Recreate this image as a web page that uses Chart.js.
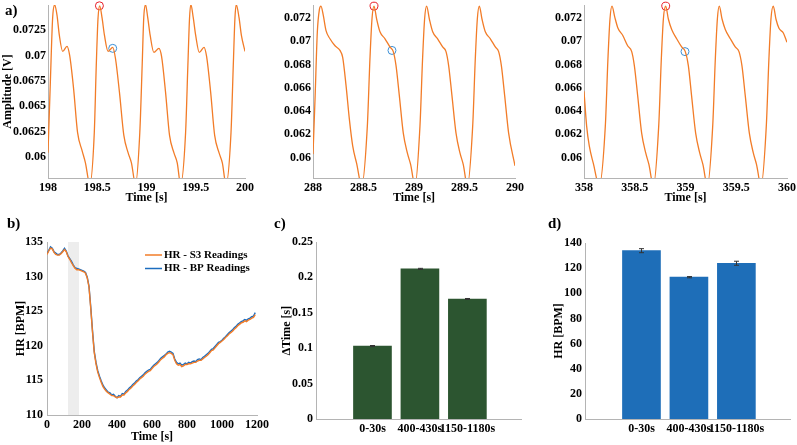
<!DOCTYPE html>
<html>
<head>
<meta charset="utf-8">
<script src="https://cdn.jsdelivr.net/npm/chart.js@4.4.1/dist/chart.umd.min.js"></script>
<style>
  html, body { margin: 0; padding: 0; background: #fff; }
  #wrap { position: relative; width: 797px; height: 445px; overflow: hidden; }
  #wrap canvas { position: absolute; left: 0; top: 0; }
  .tag { position: absolute; font: bold 15px "Liberation Serif", serif; line-height: 1; color: #000; }
</style>
</head>
<body>
<div id="wrap">
  <canvas id="a1" width="797" height="445"></canvas>
  <canvas id="a2" width="797" height="445"></canvas>
  <canvas id="a3" width="797" height="445"></canvas>
  <canvas id="b" width="797" height="445"></canvas>
  <canvas id="c" width="797" height="445"></canvas>
  <canvas id="d" width="797" height="445"></canvas>
  <div class="tag" style="left:5px;top:3px">a)</div>
  <div class="tag" style="left:7px;top:216px">b)</div>
  <div class="tag" style="left:274px;top:216px">c)</div>
  <div class="tag" style="left:548px;top:216px">d)</div>
</div>
<script>
// ---- data ----

// a) S3 waveform, 198-200 s
const a1Time = [
  198.0, 198.024, 198.047, 198.068, 198.091, 198.115, 198.149, 198.193, 198.22, 198.26, 198.30, 198.346, 198.38, 198.424,
  198.47, 198.49, 198.508, 198.525, 198.549, 198.573, 198.61, 198.657, 198.685, 198.725, 198.77, 198.813, 198.847, 198.888,
  198.932, 198.956, 198.972, 198.99, 199.013, 199.037, 199.075, 199.126, 199.153, 199.193, 199.234, 199.278, 199.312, 199.346,
  199.397, 199.42, 199.437, 199.451, 199.475, 199.499, 199.536, 199.584, 199.61, 199.651, 199.692, 199.736, 199.77, 199.807,
  199.858, 199.881, 199.898, 199.912, 199.94, 199.963, 200.0
];
const a1Amp = [
  0.0604, 0.0674, 0.0737, 0.0750, 0.0740, 0.0720, 0.0704, 0.0709, 0.0700, 0.0667, 0.0624, 0.0606, 0.0594, 0.0573,
  0.0624, 0.0690, 0.0737, 0.0749, 0.0737, 0.0720, 0.0704, 0.0708, 0.0697, 0.0664, 0.0621, 0.0604, 0.0594, 0.0573,
  0.0624, 0.0690, 0.0737, 0.0750, 0.0737, 0.0720, 0.0703, 0.0707, 0.0699, 0.0664, 0.0621, 0.0604, 0.0594, 0.0573,
  0.0624, 0.0690, 0.0737, 0.0750, 0.0737, 0.0720, 0.0703, 0.0708, 0.0699, 0.0664, 0.0621, 0.0604, 0.0594, 0.0573,
  0.0624, 0.0690, 0.0737, 0.0750, 0.0737, 0.0720, 0.0704
];
const a1Peak = [198.522, 0.0749];
const a1Notch = [198.657, 0.0707];

// 288-290 s
const a2Time = [
  288.0, 288.02, 288.043, 288.063, 288.079, 288.102, 288.129, 288.168, 288.218, 288.267, 288.294, 288.327, 288.36, 288.393, 288.432, 288.482,
  288.538, 288.564, 288.584, 288.604, 288.63, 288.663, 288.713, 288.762, 288.795, 288.822, 288.855, 288.894, 288.934, 288.967, 289.01,
  289.059, 289.085, 289.105, 289.125, 289.152, 289.185, 289.234, 289.284, 289.317, 289.343, 289.376, 289.416, 289.455, 289.488, 289.528,
  289.581, 289.607, 289.627, 289.647, 289.673, 289.706, 289.756, 289.805, 289.838, 289.865, 289.898, 289.937, 290.0
];
const a2Amp = [
  0.0603, 0.0650, 0.0708, 0.0727, 0.0730, 0.0722, 0.0709, 0.0702, 0.0696, 0.0692, 0.0686, 0.0662, 0.0633, 0.0610, 0.0595, 0.0576,
  0.0627, 0.0685, 0.0719, 0.0730, 0.0719, 0.0708, 0.0702, 0.0695, 0.0691, 0.0679, 0.0653, 0.0621, 0.0604, 0.0594, 0.0576,
  0.0627, 0.0685, 0.0719, 0.0730, 0.0719, 0.0708, 0.0702, 0.0695, 0.0691, 0.0679, 0.0653, 0.0621, 0.0604, 0.0594, 0.0576,
  0.0627, 0.0685, 0.0719, 0.0730, 0.0719, 0.0708, 0.0702, 0.0695, 0.0691, 0.0679, 0.0653, 0.0621, 0.0593
];
const a2Peak = [288.604, 0.0730];
const a2Notch = [288.782, 0.0692];

// 358-360 s
const a3Time = [
  358.0, 358.026, 358.052, 358.092, 358.15,
  358.21, 358.236, 358.256, 358.276, 358.302, 358.335, 358.381, 358.43, 358.47, 358.496, 358.529, 358.568, 358.608, 358.64, 358.683,
  358.736, 358.762, 358.782, 358.805, 358.831, 358.864, 358.913, 358.962, 358.998, 359.028, 359.06, 359.1, 359.14, 359.172, 359.215,
  359.268, 359.294, 359.314, 359.333, 359.36, 359.392, 359.442, 359.49, 359.527, 359.556, 359.589, 359.629, 359.668, 359.7, 359.744,
  359.796, 359.822, 359.842, 359.865, 359.891, 359.921, 359.964, 360.0
];
const a3Amp = [
  0.0657, 0.0627, 0.0610, 0.0595, 0.0576,
  0.0627, 0.0685, 0.0719, 0.0730, 0.0721, 0.0711, 0.0705, 0.0696, 0.0691, 0.0679, 0.0653, 0.0621, 0.0604, 0.0594, 0.0576,
  0.0627, 0.0685, 0.0719, 0.0730, 0.0719, 0.0710, 0.0702, 0.0695, 0.0691, 0.0679, 0.0653, 0.0621, 0.0604, 0.0594, 0.0576,
  0.0627, 0.0685, 0.0719, 0.0730, 0.0719, 0.0710, 0.0702, 0.0695, 0.0691, 0.0679, 0.0653, 0.0621, 0.0604, 0.0594, 0.0576,
  0.0627, 0.0685, 0.0719, 0.0730, 0.0719, 0.0711, 0.0707, 0.0699
];
const a3Peak = [358.805, 0.0730];
const a3Notch = [358.995, 0.0691];

// b) heart rate over the whole session
const hrTime = [
  0, 10, 20, 30, 40, 50, 60, 70, 80, 90, 100, 110, 120, 130, 140, 150, 160, 170, 180, 190,
  200, 210, 220, 230, 240, 250, 260, 270, 280, 290, 300, 310, 320, 330, 340, 350, 360, 370, 380, 390,
  400, 410, 420, 430, 440, 450, 460, 470, 480, 490, 500, 510, 520, 530, 540, 550, 560, 570, 580, 590,
  600, 610, 620, 630, 640, 650, 660, 670, 680, 690, 700, 710, 720, 730, 740, 750, 760, 770, 780, 790,
  800, 810, 820, 830, 840, 850, 860, 870, 880, 890, 900, 910, 920, 930, 940, 950, 960, 970, 980, 990,
  1000, 1010, 1020, 1030, 1040, 1050, 1060, 1070, 1080, 1090, 1100, 1110, 1120, 1130, 1140, 1150, 1160, 1170, 1180, 1190
];
const hrS3 = [
  133.2, 133.7, 134.1, 134.0, 133.5, 133.2, 133.1, 133.1, 133.3, 133.6, 133.9, 133.6, 132.9, 132.5, 132.0, 131.6, 131.2, 131.0, 131.0, 130.9,
  130.8, 130.7, 130.5, 129.8, 128.5, 125.4, 122.0, 119.0, 117.4, 116.2, 115.4, 114.7, 114.1, 113.7, 113.4, 113.2, 113.0, 112.8, 112.8, 112.6,
  112.5, 112.6, 112.6, 112.9, 112.9, 113.2, 113.4, 113.7, 113.9, 114.2, 114.4, 114.7, 114.9, 115.2, 115.4, 115.6, 115.9, 116.1, 116.3, 116.4,
  116.7, 117.0, 117.2, 117.4, 117.7, 118.0, 118.2, 118.4, 118.7, 118.9, 119.0, 118.9, 118.7, 117.9, 117.4, 117.2, 117.3, 117.0, 117.1, 117.3,
  117.3, 117.4, 117.4, 117.5, 117.6, 117.6, 117.8, 117.9, 117.9, 118.1, 118.3, 118.5, 118.7, 119.0, 119.3, 119.4, 119.7, 120.0, 120.3, 120.5,
  120.7, 120.9, 121.2, 121.4, 121.7, 121.9, 122.1, 122.4, 122.6, 122.9, 123.1, 123.3, 123.4, 123.6, 123.5, 123.7, 123.8, 124.0, 124.1, 124.5
];
const hrBP = [
  133.3, 133.8, 134.3, 134.1, 133.6, 133.4, 133.2, 133.2, 133.4, 133.7, 134.1, 133.7, 133.0, 132.6, 132.2, 131.7, 131.3, 131.2, 131.1, 131.0,
  130.9, 130.8, 130.6, 129.9, 128.6, 125.6, 122.2, 119.2, 117.6, 116.4, 115.6, 114.9, 114.3, 113.9, 113.6, 113.3, 113.2, 112.9, 113.0, 112.7,
  112.5, 112.8, 112.7, 113.1, 113.0, 113.4, 113.6, 113.9, 114.1, 114.4, 114.6, 114.9, 115.1, 115.4, 115.6, 115.8, 116.1, 116.3, 116.5, 116.6,
  116.9, 117.2, 117.4, 117.6, 117.9, 118.2, 118.4, 118.6, 118.8, 119.1, 119.2, 119.1, 118.9, 118.1, 117.6, 117.4, 117.5, 117.2, 117.3, 117.5,
  117.4, 117.6, 117.5, 117.7, 117.8, 117.7, 118.0, 118.1, 118.0, 118.3, 118.5, 118.7, 118.9, 119.2, 119.5, 119.6, 119.9, 120.2, 120.5, 120.6,
  120.8, 121.1, 121.3, 121.6, 121.9, 122.1, 122.3, 122.6, 122.8, 123.1, 123.3, 123.5, 123.6, 123.8, 123.7, 123.9, 124.0, 124.2, 124.3, 124.8
];
const hrShade = [120, 183];

// c) and d) per time window
const windows = ['0-30s', '400-430s', '1150-1180s'];
const dtMean = [0.103, 0.212, 0.1695];
const dtErr = [0.0008, 0.0008, 0.0007];
const hrMean = [133.9, 112.8, 123.9];
const hrErr = [1.6, 0.5, 1.6];

// ---- drawing ----
const W = 797, H = 445;
const axisGray = '#b4b4b4';
const orange = '#f27c28';
const blue = '#1c6dbf';
const font = { family: 'Liberation Serif', size: 12, weight: 'bold' };

Chart.defaults.font.family = 'Liberation Serif';
Chart.defaults.font.size = 12;
Chart.defaults.font.weight = 'bold';
Chart.defaults.color = '#000';
Chart.defaults.animation = false;
Chart.defaults.responsive = false;
Chart.defaults.plugins.legend.display = false;
Chart.defaults.plugins.tooltip.enabled = false;

// padding that puts the plot area exactly on box = [left, top, right, bottom]
function pad(box, yw, xh) {
  return { left: box[0] - yw, top: box[1], right: W - box[2], bottom: H - box[3] - xh };
}
function fixWidth(w) {
  return s => { s.width = w; s.paddingTop = s.paddingBottom = s.paddingLeft = s.paddingRight = 0; };
}
function fixHeight(h) {
  return s => { s.height = h; s.paddingTop = s.paddingBottom = s.paddingLeft = s.paddingRight = 0; };
}
function pts(xs, ys) {
  return xs.map((x, i) => ({ x: x, y: ys[i] }));
}

function wavePanel(id, time, amp, peak, notch, o) {
  new Chart(document.getElementById(id), {
    type: 'line',
    data: {
      datasets: [
        { data: pts(time, amp), borderColor: orange, borderWidth: 1.3, pointRadius: 0,
          cubicInterpolationMode: 'monotone', clip: 0 },
        { data: [{ x: peak[0], y: peak[1] }], showLine: false, pointRadius: 4, pointBorderWidth: 1,
          pointBorderColor: '#e8202a', pointBackgroundColor: 'rgba(0,0,0,0)', clip: false },
        { data: [{ x: notch[0], y: notch[1] }], showLine: false, pointRadius: 4, pointBorderWidth: 1,
          pointBorderColor: '#3a8fd6', pointBackgroundColor: 'rgba(0,0,0,0)', clip: false },
      ],
    },
    options: {
      layout: { padding: pad(o.box, o.yw, 27) },
      scales: {
        x: {
          type: 'linear', min: time[0], max: time[0] + 2,
          grid: { display: false, drawTicks: false }, border: { color: axisGray },
          ticks: { font: font, color: '#000', stepSize: 0.5, padding: 3, autoSkip: false, maxRotation: 0,
                   includeBounds: false, callback: v => String(v) },
          title: { display: true, text: 'Time [s]', font: font, color: '#000', padding: 0 },
          afterFit: fixHeight(27),
        },
        y: {
          type: 'linear', min: o.yMin, max: o.yMax,
          grid: { display: false, drawTicks: false }, border: { color: axisGray },
          ticks: { font: font, color: '#000', stepSize: o.yStep, padding: 2, includeBounds: false,
                   callback: v => String(+v.toFixed(4)) },
          title: { display: !!o.yTitle, text: o.yTitle || '', font: font, color: '#000', padding: { top: 1, bottom: 0 } },
          afterFit: fixWidth(o.yw),
        },
      },
    },
  });
}

wavePanel('a1', a1Time, a1Amp, a1Peak, a1Notch,
  { box: [48, 5, 245, 178], yw: 48, yMin: 0.0579, yMax: 0.07498, yStep: 0.0025, yTitle: 'Amplitude [V]' });
wavePanel('a2', a2Time, a2Amp, a2Peak, a2Notch,
  { box: [313, 5, 515, 178], yw: 40, yMin: 0.05825, yMax: 0.0731, yStep: 0.002 });
wavePanel('a3', a3Time, a3Amp, a3Peak, a3Notch,
  { box: [584, 5, 787, 178], yw: 40, yMin: 0.05825, yMax: 0.0731, yStep: 0.002 });

// shaded window behind the HR traces
function shade(from, to) {
  return {
    id: 'shade',
    beforeDatasetsDraw(chart) {
      const ctx = chart.ctx, a = chart.chartArea, x = chart.scales.x;
      const x0 = x.getPixelForValue(from), x1 = x.getPixelForValue(to);
      ctx.save();
      ctx.fillStyle = '#ededed';
      ctx.fillRect(x0, a.top, x1 - x0, a.bottom - a.top);
      ctx.restore();
    },
  };
}

// legend inside the plot, top right
const hrLegend = {
  id: 'hrLegend',
  afterDraw(chart) {
    const ctx = chart.ctx, a = chart.chartArea;
    ctx.save();
    ctx.font = 'bold 11px "Liberation Serif"';
    ctx.textBaseline = 'middle';
    chart.data.datasets.forEach((ds, i) => {
      const y = a.top + 13 + i * 13.5;
      ctx.strokeStyle = ds.borderColor;
      ctx.lineWidth = 1.5;
      ctx.beginPath();
      ctx.moveTo(a.left + 98, y);
      ctx.lineTo(a.left + 115, y);
      ctx.stroke();
      ctx.fillStyle = '#000';
      ctx.fillText(ds.label, a.left + 117, y);
    });
    ctx.restore();
  },
};

new Chart(document.getElementById('b'), {
  type: 'line',
  data: {
    datasets: [
      { label: 'HR - S3 Readings', data: pts(hrTime, hrS3), borderColor: orange, borderWidth: 1.4,
        pointRadius: 0, tension: 0, clip: 0 },
      { label: 'HR - BP Readings', data: pts(hrTime, hrBP), borderColor: blue, borderWidth: 1.4,
        pointRadius: 0, tension: 0, clip: 0 },
    ],
  },
  options: {
    layout: { padding: pad([47, 242, 257, 415], 37, 29) },
    scales: {
      x: {
        type: 'linear', min: 0, max: 1200,
        grid: { display: false, drawTicks: false }, border: { color: axisGray },
        ticks: { font: font, color: '#000', stepSize: 200, padding: 3, autoSkip: false, maxRotation: 0,
                 callback: v => String(v) },
        title: { display: true, text: 'Time [s]', font: font, color: '#000', padding: 0 },
        afterFit: fixHeight(29),
      },
      y: {
        type: 'linear', min: 110, max: 135,
        grid: { display: false, drawTicks: false }, border: { color: axisGray },
        ticks: { font: font, color: '#000', stepSize: 5, padding: 4, callback: v => String(v) },
        title: { display: true, text: 'HR [BPM]', font: font, color: '#000', padding: { top: 4, bottom: 0 } },
        afterFit: fixWidth(37),
      },
    },
  },
  plugins: [shade(hrShade[0], hrShade[1]), hrLegend],
});

// small error bars on top of the bars
function errorBars(mean, err) {
  return {
    id: 'errorBars',
    afterDatasetsDraw(chart) {
      const ctx = chart.ctx, xs = chart.scales.x, ys = chart.scales.y;
      ctx.save();
      ctx.strokeStyle = '#333';
      ctx.lineWidth = 1;
      mean.forEach((m, i) => {
        const x = Math.round(xs.getPixelForValue(i + 1)) + 0.5;
        const lo = ys.getPixelForValue(m - err[i]);
        const hi = ys.getPixelForValue(m + err[i]);
        ctx.beginPath();
        ctx.moveTo(x, lo); ctx.lineTo(x, hi);
        ctx.moveTo(x - 2.5, lo); ctx.lineTo(x + 2.5, lo);
        ctx.moveTo(x - 2.5, hi); ctx.lineTo(x + 2.5, hi);
        ctx.stroke();
      });
      ctx.restore();
    },
  };
}

function barPanel(id, mean, err, color, o) {
  new Chart(document.getElementById(id), {
    type: 'bar',
    data: {
      datasets: [{ data: mean.map((v, i) => ({ x: i + 1, y: v })), backgroundColor: color, barThickness: 38 }],
    },
    options: {
      layout: { padding: pad(o.box, o.yw, 20) },
      scales: {
        x: {
          type: 'linear', min: -0.19, max: 4.13, offset: false,
          grid: { display: false, drawTicks: false, offset: false }, border: { color: axisGray },
          afterBuildTicks: s => { s.ticks = windows.map((w, i) => ({ value: i + 1 })); },
          ticks: { font: font, color: '#000', padding: 3, autoSkip: false, maxRotation: 0,
                   callback: v => windows[v - 1] },
          afterFit: fixHeight(20),
        },
        y: {
          type: 'linear', min: 0, max: o.yMax, beginAtZero: true,
          grid: { display: false, drawTicks: false }, border: { color: axisGray },
          ticks: { font: font, color: '#000', stepSize: o.yStep, padding: 3, callback: v => String(+v.toFixed(2)) },
          title: { display: true, text: o.yTitle, font: font, color: '#000', padding: { top: 2, bottom: 0 } },
          afterFit: fixWidth(o.yw),
        },
      },
    },
    plugins: [errorBars(mean, err)],
  });
}

barPanel('c', dtMean, dtErr, '#2c5530',
  { box: [316, 242, 521, 419], yw: 38, yMax: 0.25, yStep: 0.05, yTitle: '\u2206Time [s]' });
barPanel('d', hrMean, hrErr, '#1e6eb8',
  { box: [585, 243, 790, 419], yw: 35, yMax: 140, yStep: 20, yTitle: 'HR [BPM]' });
</script>
</body>
</html>
